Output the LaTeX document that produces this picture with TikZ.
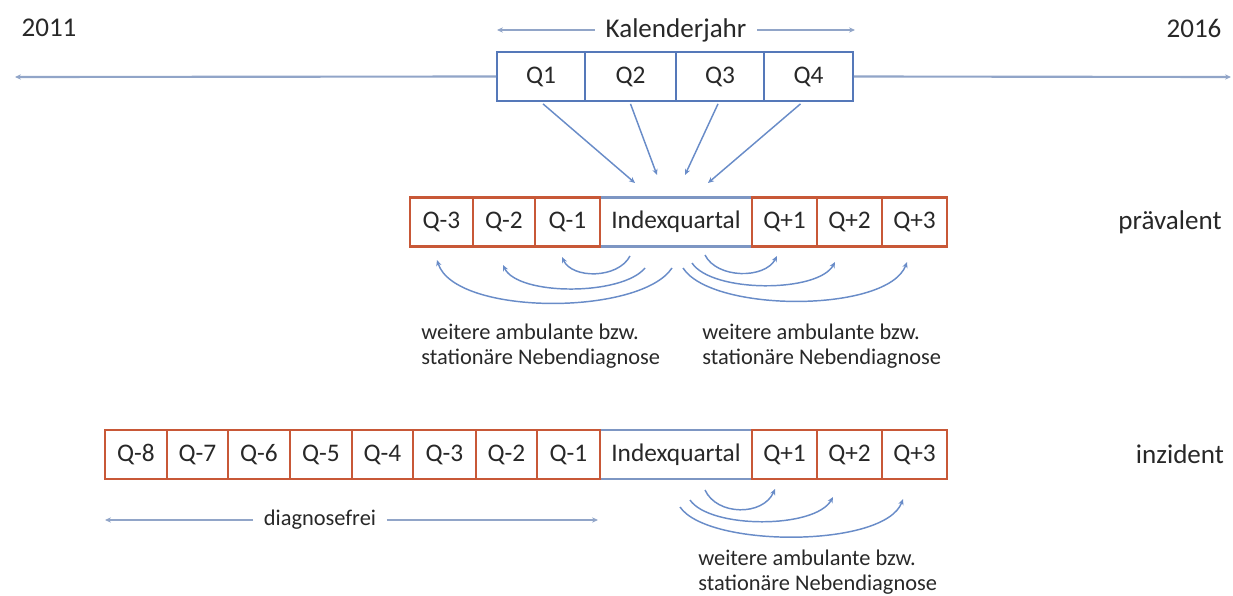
\documentclass[tikz,border=0pt]{standalone}
\usepackage{fontspec}
\setmainfont{Carlito}
\usetikzlibrary{arrows.meta,calc}
\definecolor{ored}{RGB}{200,88,55}
\definecolor{bblue}{RGB}{85,120,185}
\definecolor{iblue}{RGB}{125,150,195}
\definecolor{lblue}{RGB}{145,165,200}
\definecolor{abl}{RGB}{105,140,200}
\definecolor{tgray}{RGB}{40,40,40}
\newcommand\fBig{\fontsize{20.3}{24}\selectfont}
\newcommand\fBox{\fontsize{19}{22}\selectfont}
\newcommand\fSmall{\fontsize{16.8}{18.8}\selectfont}
\begin{document}
\begin{tikzpicture}[x=0.75pt,y=-0.75pt,
  txt/.style={text=tgray, inner sep=0pt},
  bigtxt/.style={txt, font=\fBig},
  smalltxt/.style={txt, font=\fSmall, align=left},
  qbox/.style={rectangle, draw=ored, line width=1.7pt, fill=white, text=tgray, font=\fBox, inner sep=0pt, minimum height=49*0.75pt},
  ibox/.style={qbox, draw=iblue},
  tbox/.style={qbox, draw=bblue, line width=1.3pt},
  tip/.style={-{Stealth[length=4.5pt,width=4pt]}},
  tl/.style={draw=lblue, line width=1.6pt},
  arc/.style={draw=abl, line width=1.1pt, tip},
]
\useasboundingbox (0,0) rectangle (1233,596);

% top labels
\node[bigtxt] (y2011) at (49,28) {2011};
\node[bigtxt] (y2016) at (1194,28) {2016};
\node[bigtxt] (praev) at (1170,222) {prävalent};
\node[bigtxt] (inz) at (1180,454) {inzident};

% calendar year boxes
\node[tbox, minimum width=88*0.75pt] (q1) at (541,76.5) {Q1};
\node[tbox, minimum width=91*0.75pt] (q2) at (630.5,76.5) {Q2};
\node[tbox, minimum width=88*0.75pt] (q3) at (720,76.5) {Q3};
\node[tbox, minimum width=89*0.75pt] (q4) at (808.5,76.5) {Q4};

% timeline
\coordinate (tlL) at (15,77);
\coordinate (tlR) at (1231,77);
\draw[tl, tip] (q1.west) -- (tlL);
\draw[tl, tip] (q4.east) -- (tlR);

% Kalenderjahr
\node[bigtxt, fill=white, inner xsep=8pt] (kal) at (676,30) {Kalenderjahr};
\coordinate (kL) at (497,30);
\coordinate (kR) at (855,30);
\draw[tl, tip] (kal.west) -- (kL);
\draw[tl, tip] (kal.east) -- (kR);

% middle row (praevalent)
\node[ibox, minimum width=152*0.75pt] (mI) at (676,222) {Indexquartal};
\node[qbox, minimum width=63*0.75pt] (mm3) at (441.5,222) {Q-3};
\node[qbox, minimum width=62*0.75pt] (mm2) at (504,222) {Q-2};
\node[qbox, minimum width=65*0.75pt] (mm1) at (567.5,222) {Q-1};
\node[qbox, minimum width=65*0.75pt] (mp1) at (784.5,222) {Q+1};
\node[qbox, minimum width=65*0.75pt] (mp2) at (849.5,222) {Q+2};
\node[qbox, minimum width=65*0.75pt] (mp3) at (914.5,222) {Q+3};

% arrows from quarters to Indexquartal
\coordinate (t1) at (635,183);
\coordinate (t2) at (657,175);
\coordinate (t3) at (685,175);
\coordinate (t4) at (708,183);
\draw[arc] ($(q1.south)+(2,2)$) -- (t1);
\draw[arc] ($(q2.south)+(0,2)$) -- (t2);
\draw[arc] ($(q3.south)+(-2,2)$) -- (t3);
\draw[arc] ($(q4.south)+(-8,2)$) -- (t4);

% middle arcs (left)
\coordinate (a1s) at (630,256); \coordinate (a1t) at (562,257);
\coordinate (a2s) at (645,268); \coordinate (a2t) at (503,265);
\coordinate (a3s) at (672,268); \coordinate (a3t) at (437,260);
\draw[arc] (a1s) .. controls (618,279) and (572,279) .. (a1t);
\draw[arc] (a2s) .. controls (622,296) and (518,296) .. (a2t);
\draw[arc] (a3s) .. controls (640,316) and (455,316) .. (a3t);
% middle arcs (right)
\coordinate (b1s) at (705,255); \coordinate (b1t) at (777,256);
\coordinate (b2s) at (692,263); \coordinate (b2t) at (835,262);
\coordinate (b3s) at (683,268); \coordinate (b3t) at (907,262);
\draw[arc] (b1s) .. controls (717,279) and (765,279) .. (b1t);
\draw[arc] (b2s) .. controls (712,293) and (818,293) .. (b2t);
\draw[arc] (b3s) .. controls (712,313) and (888,313) .. (b3t);

\node[smalltxt, anchor=west] (mlab1) at (421,346.5) {weitere ambulante bzw.\\stationäre Nebendiagnose};
\node[smalltxt, anchor=west] (mlab2) at (702,346.5) {weitere ambulante bzw.\\stationäre Nebendiagnose};

% bottom row (inzident)
\node[ibox, minimum width=152*0.75pt] (bI) at (676,454.5) {Indexquartal};
\node[qbox, minimum width=62*0.75pt] (bm8) at (136,454.5) {Q-8};
\node[qbox, minimum width=61*0.75pt] (bm7) at (197.5,454.5) {Q-7};
\node[qbox, minimum width=62*0.75pt] (bm6) at (259,454.5) {Q-6};
\node[qbox, minimum width=62*0.75pt] (bm5) at (321,454.5) {Q-5};
\node[qbox, minimum width=61*0.75pt] (bm4) at (382.5,454.5) {Q-4};
\node[qbox, minimum width=63*0.75pt] (bm3) at (444.5,454.5) {Q-3};
\node[qbox, minimum width=61*0.75pt] (bm2) at (506.5,454.5) {Q-2};
\node[qbox, minimum width=63*0.75pt] (bm1) at (568.5,454.5) {Q-1};
\node[qbox, minimum width=65*0.75pt] (bp1) at (784.5,454.5) {Q+1};
\node[qbox, minimum width=65*0.75pt] (bp2) at (849.5,454.5) {Q+2};
\node[qbox, minimum width=65*0.75pt] (bp3) at (914.5,454.5) {Q+3};

% bottom arcs
\coordinate (c1s) at (705,490); \coordinate (c1t) at (775,489);
\coordinate (c2s) at (690,500); \coordinate (c2t) at (833,497);
\coordinate (c3s) at (680,507); \coordinate (c3t) at (903,499);
\draw[arc] (c1s) .. controls (717,516) and (763,516) .. (c1t);
\draw[arc] (c2s) .. controls (710,529) and (815,529) .. (c2t);
\draw[arc] (c3s) .. controls (708,548) and (885,548) .. (c3t);

\node[smalltxt, anchor=west] (blab) at (698,572.5) {weitere ambulante bzw.\\stationäre Nebendiagnose};

% diagnosefrei
\node[txt, font=\fSmall, fill=white, inner xsep=8pt] (dfrei) at (320,520) {diagnosefrei};
\coordinate (dL) at (105,520);
\coordinate (dR) at (598,520);
\draw[tl, tip] (dfrei.west) -- (dL);
\draw[tl, tip] (dfrei.east) -- (dR);
\end{tikzpicture}
\end{document}
